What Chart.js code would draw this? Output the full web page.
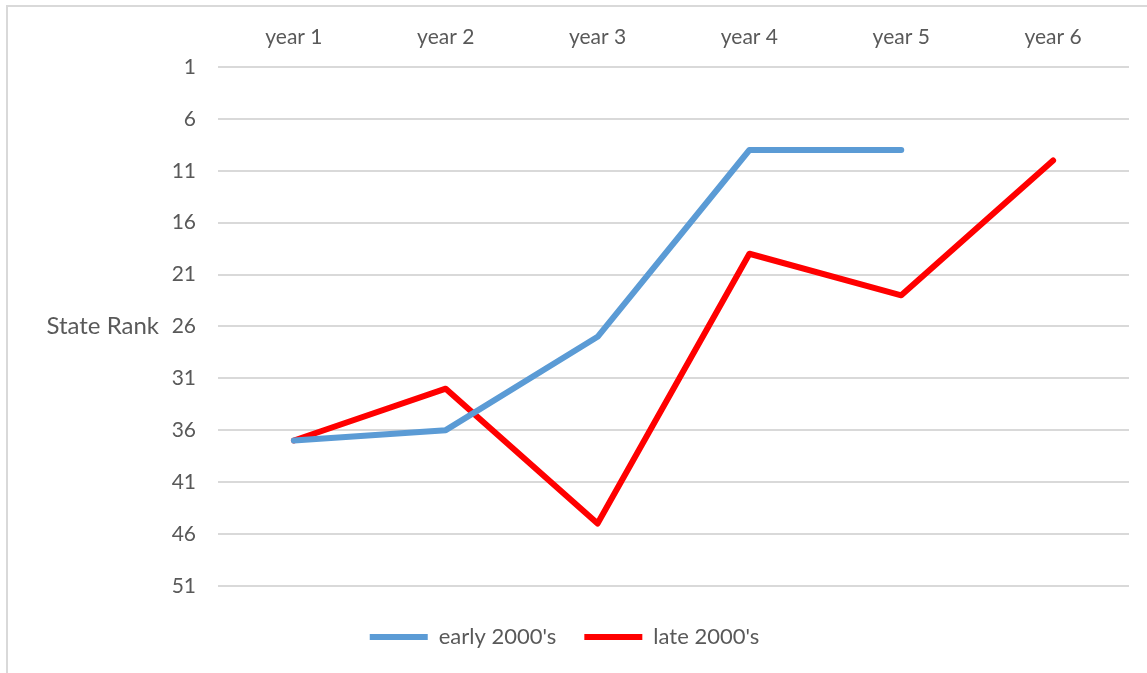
<!DOCTYPE html>
<html>
<head>
<meta charset="utf-8">
<script src="https://cdn.jsdelivr.net/npm/chart.js@4"></script>
<style>
  html, body { margin: 0; padding: 0; background: #fff; overflow: hidden; }
  #frame { position: absolute; left: 6px; top: 5px; width: 1200px; height: 700px;
           border-left: 2px solid #d9d9d9; border-top: 2px solid #d9d9d9; }
  #wrap { position: absolute; left: 0; top: 0; width: 1147px; height: 658px; }
</style>
</head>
<body>
<div id="frame"></div>
<div id="wrap"><canvas id="myChart"></canvas></div>
<script>
"use strict";

const years = ['year 1', 'year 2', 'year 3', 'year 4', 'year 5', 'year 6'];
const early2000s = [37, 36, 27, 9, 9, null];
const late2000s = [37, 32, 45, 19, 23, 10];
const rankMin = 1;
const rankMax = 51;
const rankStep = 5;

const textColor = '#595959';
const fontFamily = 'Lato, "Open Sans", sans-serif';
const fontSize = 21;

// horizontal y axis title, like the spreadsheet one
const yTitle = {
    id: 'yTitle',
    afterDraw(chart) {
        const ctx = chart.ctx;
        const area = chart.chartArea;
        ctx.save();
        ctx.font = '24px ' + fontFamily;
        ctx.fillStyle = textColor;
        ctx.textAlign = 'right';
        ctx.textBaseline = 'middle';
        ctx.fillText('State Rank', 159, (area.top + area.bottom) / 2);
        ctx.restore();
    }
};

const ctx = document.getElementById('myChart');

const chart = new Chart(ctx, {
    type: 'line',
    data: {
        labels: years,
        datasets: [{
            label: "early 2000's",
            data: early2000s,
            borderColor: '#5b9bd5',
            backgroundColor: '#5b9bd5',
            borderWidth: 6,
            borderCapStyle: 'round',
            borderJoinStyle: 'round',
            pointRadius: 0,
            spanGaps: false
        }, {
            label: "late 2000's",
            data: late2000s,
            borderColor: '#ff0000',
            backgroundColor: '#ff0000',
            borderWidth: 6,
            borderCapStyle: 'round',
            borderJoinStyle: 'round',
            pointRadius: 0
        }]
    },
    options: {
        responsive: true,
        maintainAspectRatio: false,
        animation: false,
        layout: { padding: { left: 0, right: 18, top: 0, bottom: 0 } },
        plugins: {
            tooltip: { enabled: false },
            legend: {
                position: 'bottom',
                title: { display: true, text: ' ', font: { size: 1 }, padding: { top: 11, bottom: 0 } },
                labels: {
                    usePointStyle: true,
                    pointStyle: 'line',
                    pointStyleWidth: 58,
                    padding: 28,
                    color: textColor,
                    font: { family: fontFamily, size: 22 }
                }
            }
        },
        scales: {
            x: {
                position: 'top',
                offset: true,
                grid: { display: false, drawTicks: false },
                border: { display: false },
                ticks: { color: textColor, font: { family: fontFamily, size: fontSize }, padding: 17 },
                afterFit(scale) { scale.height = 67; }
            },
            y: {
                reverse: true,
                min: rankMin,
                max: rankMax,
                grid: { color: '#d9d9d9', lineWidth: 2, drawTicks: false },
                border: { display: false },
                ticks: { stepSize: rankStep, color: textColor, font: { family: fontFamily, size: fontSize }, padding: 22 },
                afterFit(scale) { scale.width = 218; }
            }
        }
    },
    plugins: [yTitle]
});
</script>
</body>
</html>
